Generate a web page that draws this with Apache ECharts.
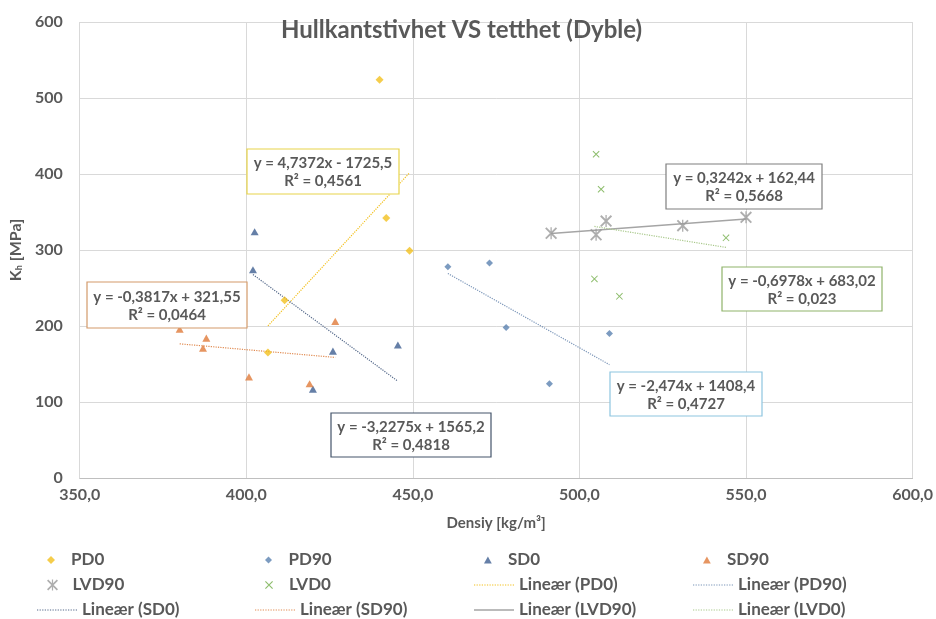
<!DOCTYPE html>
<html>
<head>
<meta charset="utf-8">
<script src="https://cdn.jsdelivr.net/npm/echarts@6/dist/echarts.min.js"></script>
<style>
  html, body { margin: 0; padding: 0; background: #ffffff; }
  #chart { width: 936px; height: 619px; }
</style>
</head>
<body>
<div id="chart"></div>
<script>
// Measured points: [density kg/m3, Kh MPa]
const PD0   = [[440, 524], [442, 342], [449, 299], [411.5, 234], [406.5, 165]];
const PD90  = [[460.5, 278], [473, 283], [478, 198], [491, 124], [509, 190]];
const SD0   = [[402.5, 324], [402, 274], [426, 167], [445.5, 175], [420, 117]];
const SD90  = [[380, 196], [388, 184], [387, 171], [400.8, 133], [419, 124], [426.7, 206]];
const LVD90 = [[491.5, 322], [505, 320], [508, 338], [531, 332], [550, 343]];
const LVD0  = [[505, 426], [506.5, 380], [544, 316], [504.5, 262], [512, 239]];

// Linear fits: [slope, intercept, R²]
const fitPD0   = [4.7372, -1725.5, 0.4561];
const fitPD90  = [-2.474, 1408.4, 0.4727];
const fitSD0   = [-3.2275, 1565.2, 0.4818];
const fitSD90  = [-0.3817, 321.55, 0.0464];
const fitLVD90 = [0.3242, 162.44, 0.5668];
const fitLVD0  = [-0.6978, 683.02, 0.023];

// Axis ranges: [min, max, interval]
const xRange = [350, 600, 50];
const yRange = [0, 600, 100];

const TXT = '#595959';
const FONT = 'Lato, "Open Sans", sans-serif';

// marker shapes as paths so legend icons keep their proportions
const DIAMOND_PATH = 'path://M5,0 L10,5 L5,10 L0,5 Z';
const TRIANGLE_PATH = 'path://M5,0 L10,9 L0,9 Z';
const X_PATH = 'path://M1,0 L0,1 L9,10 L10,9 Z M9,0 L0,9 L1,10 L10,1 Z';
const STAR_PATH = 'path://M1.1,0 L0,1.1 L8.9,10 L10,8.9 Z M8.9,0 L0,8.9 L1.1,10 L10,1.1 Z M4.45,0 L4.45,10 L5.55,10 L5.55,0 Z';

// legend icons for the fit lines
let dotted = '';
for (let i = 0; i < 40; i += 2.5) dotted += 'M' + i + ',0 h1.2 v1.2 h-1.2 Z ';
const DOT_ICON = 'path://' + dotted;
const SOLID_ICON = 'path://M0,0 h40 v1.5 h-40 Z';

const groups = [
  { name: 'PD0',   data: PD0,   fit: fitPD0,   color: '#f2c01e', symbol: DIAMOND_PATH,  size: 8,  legendSize: 8,  lineColor: '#f2c01e', solid: false,
    box: { x: 247, y: 149, w: 152, h: 45, border: '#e8d44a' } },
  { name: 'PD90',  data: PD90,  fit: fitPD90,  color: '#5b82b0', symbol: DIAMOND_PATH,  size: 7,  legendSize: 7,  lineColor: '#7a95b8', solid: false,
    box: { x: 610, y: 372, w: 152, h: 44, border: '#8ec5e0' } },
  { name: 'SD0',   data: SD0,   fit: fitSD0,   color: '#3f5f91', symbol: TRIANGLE_PATH, size: 8,  legendSize: 7,  lineColor: '#55698a', solid: false,
    box: { x: 331, y: 413, w: 160, h: 44, border: '#44546a' } },
  { name: 'SD90',  data: SD90,  fit: fitSD90,  color: '#e07b39', symbol: TRIANGLE_PATH, size: 8,  legendSize: 7,  lineColor: '#e08a50', solid: false,
    box: { x: 87, y: 282, w: 160, h: 46, border: '#d39a6a' } },
  { name: 'LVD90', data: LVD90, fit: fitLVD90, color: '#9a9a9a', symbol: STAR_PATH,     size: 12, legendSize: 11, lineColor: '#a5a5a5', solid: true,
    box: { x: 666, y: 164, w: 156, h: 45, border: '#7f7f7f' } },
  { name: 'LVD0',  data: LVD0,  fit: fitLVD0,  color: '#70ad47', symbol: X_PATH,        size: 7,  legendSize: 8,  lineColor: '#a8c88a', solid: false,
    box: { x: 722, y: 267, w: 160, h: 44, border: '#8fb36a' } }
];

const comma = v => String(v).replace('.', ',');
function equation(fit) {
  const sign = fit[1] < 0 ? ' - ' : ' + ';
  return 'y = ' + comma(fit[0]) + 'x' + sign + comma(Math.abs(fit[1]));
}

const series = [];
groups.forEach(g => {
  series.push({
    name: g.name,
    type: 'scatter',
    data: g.data,
    symbol: g.symbol,
    symbolSize: g.size,
    symbolKeepAspect: true,
    itemStyle: { color: g.color },
    z: 3
  });
});
groups.forEach(g => {
  const xs = g.data.map(p => p[0]);
  const x0 = Math.min.apply(null, xs), x1 = Math.max.apply(null, xs);
  series.push({
    name: 'Lineær (' + g.name + ')',
    type: 'line',
    data: [[x0, g.fit[0] * x0 + g.fit[1]], [x1, g.fit[0] * x1 + g.fit[1]]],
    symbol: 'none',
    silent: true,
    lineStyle: g.solid ? { color: g.lineColor, width: 1.6, type: 'solid' }
                       : { color: g.lineColor, width: 1.2, type: 'dotted' },
    itemStyle: { color: g.lineColor },
    z: 2
  });
});

// equation boxes
const graphics = [];
groups.forEach(g => {
  const b = g.box;
  graphics.push({
    type: 'rect', z: 10, silent: true,
    shape: { x: b.x, y: b.y, width: b.w, height: b.h },
    style: { fill: '#ffffff', stroke: b.border, lineWidth: 1.2 }
  });
  graphics.push({
    type: 'text', z: 11, silent: true,
    x: b.x + b.w / 2, y: b.y + b.h / 2 + 1,
    style: {
      text: equation(g.fit) + '\nR² = ' + comma(g.fit[2]),
      font: 'bold 15px ' + FONT,
      fill: TXT,
      align: 'center',
      verticalAlign: 'middle',
      lineHeight: 18
    }
  });
});

// legend grid: 4 columns x 3 rows
const legendCols = [
  ['PD0', 'LVD90', 'Lineær (SD0)'],
  ['PD90', 'LVD0', 'Lineær (SD90)'],
  ['SD0', 'Lineær (PD0)', 'Lineær (LVD90)'],
  ['SD90', 'Lineær (PD90)', 'Lineær (LVD0)']
];
const legendTextX = [77, 295, 514, 733];
const legendRowY = [555, 580, 605];

const legends = [];
legendCols.forEach((names, ci) => {
  names.forEach((name, ri) => {
    const g = groups.find(gr => gr.name === name || 'Lineær (' + gr.name + ')' === name);
    const isFit = name.indexOf('Lineær') === 0;
    const w = isFit ? 40 : 30;
    const h = isFit ? 8 : g.legendSize;
    legends.push({
      orient: 'horizontal',
      left: legendTextX[ci] - w - 5,
      top: legendRowY[ri] - 10,
      itemWidth: w,
      itemHeight: h,
      symbolKeepAspect: true,
      selectedMode: false,
      data: [{
        name: name,
        icon: isFit ? (g.solid ? SOLID_ICON : DOT_ICON) : g.symbol,
        itemStyle: { color: isFit ? g.lineColor : g.color, borderWidth: 0 }
      }],
      textStyle: { color: TXT, fontFamily: FONT, fontWeight: 'bold', fontSize: 17, lineHeight: 20 }
    });
  });
});

const chart = echarts.init(document.getElementById('chart'), null, { renderer: 'canvas' });
chart.setOption({
  animation: false,
  backgroundColor: '#ffffff',
  title: {
    text: 'Hullkantstivhet VS tetthet (Dyble)',
    left: 276,
    top: 13,
    textStyle: { color: TXT, fontFamily: FONT, fontWeight: 'bold', fontSize: 24 }
  },
  grid: { left: 77, right: 22, top: 22, bottom: 141, containLabel: false },
  xAxis: {
    type: 'value',
    min: xRange[0], max: xRange[1], interval: xRange[2],
    name: 'Densiy [kg/m³]',
    nameLocation: 'middle',
    nameGap: 38,
    nameTextStyle: { color: TXT, fontFamily: FONT, fontWeight: 'bold', fontSize: 15 },
    axisLine: { show: true, lineStyle: { color: '#bfbfbf', width: 1 } },
    axisTick: { show: false },
    splitLine: { show: true, lineStyle: { color: '#d9d9d9', width: 1 } },
    axisLabel: {
      color: TXT, fontFamily: FONT, fontWeight: 'bold', fontSize: 16, margin: 9,
      formatter: v => v.toFixed(1).replace('.', ',')
    }
  },
  yAxis: {
    type: 'value',
    min: yRange[0], max: yRange[1], interval: yRange[2],
    name: '{a|K}{sub|h}{a| [MPa]}',
    nameLocation: 'middle',
    nameRotate: 90,
    nameGap: 50,
    nameTextStyle: {
      color: TXT, fontFamily: FONT, fontWeight: 'bold', fontSize: 16,
      rich: {
        a: { color: TXT, fontFamily: FONT, fontWeight: 'bold', fontSize: 16 },
        sub: { color: TXT, fontFamily: FONT, fontWeight: 'bold', fontSize: 9, verticalAlign: 'bottom', padding: [7, 0, 0, 0] }
      }
    },
    axisLine: { show: false },
    axisTick: { show: false },
    splitLine: { show: true, lineStyle: { color: '#d9d9d9', width: 1 } },
    axisLabel: { color: TXT, fontFamily: FONT, fontWeight: 'bold', fontSize: 16, margin: 17 }
  },
  legend: legends,
  series: series,
  graphic: graphics
});
</script>
</body>
</html>
